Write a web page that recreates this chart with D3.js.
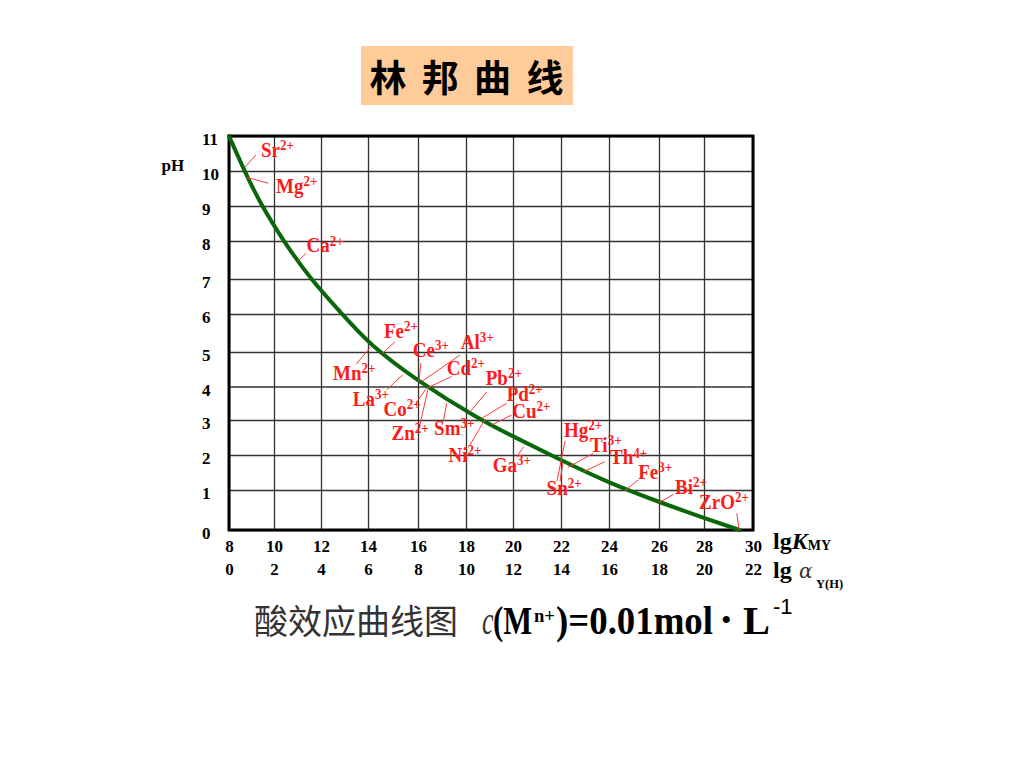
<!DOCTYPE html>
<html><head><meta charset="utf-8">
<script src="https://cdn.jsdelivr.net/npm/d3@7"></script>
<style>body{margin:0;background:#fff}</style>
</head><body><svg id="c" width="1024" height="768"></svg>
<script>
// ---- data ----
const lgK = [8, 8.69, 9.35, 10.4, 11.55, 12.9, 14.05, 16, 18.5, 20, 22, 24, 26, 28, 29.45];
const pH  = [11, 10, 9.12, 8, 7, 6, 5.2, 4.15, 3.05, 2.53, 1.85, 1.2, 0.7, 0.3, 0];
const lgKTicks = [8, 10, 12, 14, 16, 18, 20, 22, 24, 26, 28, 30];
const lgAlphaTicks = [0, 2, 4, 6, 8, 10, 12, 14, 16, 18, 20, 22];
const pHTicks = [0, 1, 2, 3, 4, 5, 6, 7, 8, 9, 10, 11];
const ions = ["Sr","Mg","Ca","Fe","Mn","Ce","Al","Cd","Pb","Pd","Cu","La","Co","Zn","Sm","Ni","Ga","Hg","Sn","Ti","Th","Fe","Bi","ZrO"];
const charges = ["2+","2+","2+","2+","2+","3+","3+","2+","2+","2+","2+","3+","2+","2+","3+","2+","3+","2+","2+","3+","4+","3+","2+","2+"];
const labelK  = [9.42,10.09,11.38,14.64,12.51,15.79,17.78,17.2,18.84,19.73,19.97,13.35,14.62,14.94,16.67,17.27,19.14,22.12,21.4,23.21,24.04,25.17,26.71,27.78];
const labelPH = [10.41,9.38,7.70,5.36,4.19,4.86,5.07,4.33,4.04,3.58,3.05,3.42,3.12,2.43,2.57,1.81,1.52,2.52,0.875,2.09,1.73,1.32,0.9,0.52];
const leaderFromK  = [8.71,8.79,11.0,14.55,14.1,16.04,16.15,16.36,18.17,18.67,19.1,15.39,16.35,16.41,17.2,18.79,20.44,21.83,22.08,22.3,22.93,24.64,25.98,29.43];
const leaderFromPH = [10.11,9.82,7.46,4.94,5.13,4.14,4.14,3.95,3.24,3.05,2.86,4.34,3.95,3.9,3.5,3.0,2.24,1.25,1.77,1.65,1.52,0.98,0.68,0];
const leaderToK  = [9.2,9.75,11.37,15.08,13.5,16.12,17.75,17.4,18.88,19.73,19.94,14.75,15.88,16.08,17.05,18.17,20.16,22.17,21.96,23.35,23.83,25.17,26.64,29.34];
const leaderToPH = [10.46,9.65,7.68,5.27,4.65,4.68,4.91,4.29,3.83,3.5,3.15,3.9,3.45,2.86,2.95,2.29,1.95,2.4,1.25,2.05,1.81,1.29,0.89,0.42];

// ---- scales ----
const serif = "'Liberation Serif','Times New Roman',serif";
const svg = d3.select('#c');
const x = d3.scaleLinear().domain(lgKTicks).range([229,274,321,368,418,466,513,561,609,659,704,753]);
const y = d3.scaleLinear().domain(pHTicks).range([530,490,455,420,386.5,352,314,279,241,206,171,136]);

svg.append('rect').attr('width',1024).attr('height',768).attr('fill','#fff');

// ---- title ----
svg.append('rect').attr('x',361).attr('y',46).attr('width',212).attr('height',59).attr('fill','#FFCC99');
svg.append('text').attr('x',369.5).attr('y',92)
  .attr('font-family',"'Noto Sans CJK SC',sans-serif").attr('font-weight',700)
  .attr('font-size',37).attr('letter-spacing',15.3).attr('fill','#000').text('林邦曲线');

// ---- grid ----
const w = x(30) - x(8), h = y(0) - y(11);
const gv = svg.append('g').attr('transform',`translate(0,${y(0)})`)
  .call(d3.axisBottom(x).tickValues(lgKTicks).tickSize(-h).tickFormat(''));
gv.select('.domain').remove();
gv.selectAll('line').attr('stroke','#333').attr('stroke-width',1.3);
const gh = svg.append('g').attr('transform',`translate(${x(8)},0)`)
  .call(d3.axisLeft(y).tickValues(pHTicks).tickSize(-w).tickFormat(''));
gh.select('.domain').remove();
gh.selectAll('line').attr('stroke','#333').attr('stroke-width',1.3);

// frame
svg.append('rect').attr('x',x(8)).attr('y',y(11)).attr('width',w).attr('height',h)
  .attr('fill','none').attr('stroke','#000').attr('stroke-width',3);

// ---- tick labels ----
const ax1 = svg.append('g').attr('transform',`translate(0,${y(0)})`)
  .call(d3.axisBottom(x).tickValues(lgKTicks).tickSize(0).tickPadding(0));
const ax2 = svg.append('g').attr('transform',`translate(0,${y(0)})`)
  .call(d3.axisBottom(x).tickValues(lgKTicks).tickSize(0).tickPadding(0).tickFormat((d,i)=>lgAlphaTicks[i]));
[ax1, ax2].forEach(a => a.select('.domain').remove());
ax1.selectAll('text').attr('dy',null).attr('y',21.5);
ax2.selectAll('text').attr('dy',null).attr('y',45);
const ay = svg.append('g').attr('transform',`translate(${x(8)},0)`)
  .call(d3.axisLeft(y).tickValues(pHTicks).tickSize(0).tickPadding(0));
ay.select('.domain').remove();
ay.selectAll('text').attr('text-anchor','start').attr('x',-27).attr('dy',null).attr('y',8.5);
[ax1, ax2, ay].forEach(a => a.attr('font-family',serif).attr('font-size',17).attr('font-weight','bold')
  .selectAll('text').attr('fill','#000'));

// axis titles
svg.append('text').attr('x',161.5).attr('y',170.5).attr('font-family',serif).attr('font-weight','bold')
  .attr('font-size',17).text('pH');
const t1 = svg.append('text').attr('x',773).attr('y',549).attr('font-family',serif).attr('font-weight','bold').attr('font-size',24);
t1.append('tspan').text('lg');
t1.append('tspan').attr('font-style','italic').text('K');
t1.append('tspan').attr('font-size',14).attr('dy',1).text('MY');
const t2 = svg.append('text').attr('x',773).attr('y',578).attr('font-family',serif).attr('font-weight','bold').attr('font-size',24);
t2.append('tspan').text('lg');
t2.append('tspan').attr('x',799).attr('font-weight','normal').attr('font-style','italic')
  .attr('font-family',"'DejaVu Serif',serif").attr('font-size',20).attr('fill','#333').text('α');
t2.append('tspan').attr('x',816).attr('dy',10).attr('font-size',12.5).text('Y(H)');

// ---- curve ----
const curvePts = lgK.map((k,i)=>[k,pH[i]]);
svg.append('path').datum(curvePts)
  .attr('d', d3.line().x(d=>x(d[0])).y(d=>y(d[1])).curve(d3.curveBasis))
  .attr('fill','none').attr('stroke','#0a660a').attr('stroke-width',4).attr('stroke-linecap','round');

// ---- ion labels ----
const lab = svg.append('g');
ions.forEach((ion,i)=>{
  lab.append('line')
    .attr('x1',x(leaderFromK[i])).attr('y1',y(leaderFromPH[i]))
    .attr('x2',x(leaderToK[i])).attr('y2',y(leaderToPH[i]))
    .attr('stroke','#ff3a3a').attr('stroke-width',1);
  const t = lab.append('text')
    .attr('transform',`translate(${x(labelK[i])},${y(labelPH[i])}) scale(1,1.15)`)
    .attr('font-family',serif).attr('font-weight','bold').attr('font-size',19).attr('fill','#ff1a1a');
  t.append('tspan').text(ion);
  t.append('tspan').attr('font-size',13).attr('dy',-6).text(charges[i]);
});

// ---- caption ----
svg.append('text').attr('x',254).attr('y',634).attr('font-family',"'Noto Sans CJK SC',sans-serif")
  .attr('font-size',34).attr('fill','#333').text('酸效应曲线图');
function cap(txt, px, py, opts){
  const t = svg.append('text').attr('transform',`translate(${px},${py}) scale(1,${opts.sy||1})`)
    .attr('font-family',opts.ff||serif).attr('font-size',opts.fs).attr('font-weight',opts.fw||'bold')
    .attr('font-style',opts.st||'normal').attr('fill',opts.fill||'#000').text(txt);
  if (opts.len) t.attr('textLength',opts.len).attr('lengthAdjust','spacingAndGlyphs');
  return t;
}
cap('c', 482, 634, {fs:26, sy:1.5, fw:'normal', st:'italic', fill:'#333'});
cap('(M', 493, 634, {fs:33, sy:1.22, len:39});
cap('n+', 534, 622, {fs:16, sy:1.22, len:21});
cap(')=0.01mol', 556, 634, {fs:33, sy:1.22, len:157});
cap('•', 721, 630, {fs:30, fw:'normal'});
cap('L', 743, 634, {fs:33, sy:1.22, len:27});
cap('-1', 773, 614, {fs:22, fw:'normal', ff:"'Liberation Sans',Arial,sans-serif"});
</script></body></html>
